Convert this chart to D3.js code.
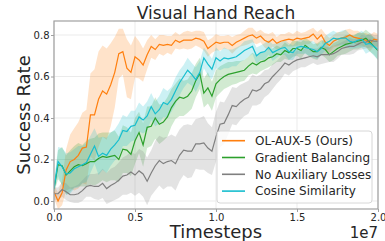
<!DOCTYPE html>
<html>
<head>
<meta charset="utf-8">
<script src="https://cdn.jsdelivr.net/npm/d3@7"></script>
<style>
  body { margin: 0; background: #fff; }
  text { font-family: "DejaVu Sans", sans-serif; fill: #262626; }
  .grid line { stroke: #ebebeb; stroke-width: 1; }
  .band { stroke: none; }
  .line { fill: none; stroke-width: 1.2; }
</style>
</head>
<body>
<script>
// timesteps: one evaluation every 0.25e6 steps
var steps = d3.range(81).map(function(i) { return i * 0.25e6; });

var olAux = [0.045,0.0,0.04,0.15,0.19,0.2,0.22,0.255,0.26,0.415,
  0.415,0.49,0.53,0.515,0.56,0.62,0.71,0.72,0.64,0.62,
  0.695,0.68,0.655,0.705,0.745,0.73,0.755,0.75,0.755,0.75,
  0.775,0.765,0.775,0.775,0.775,0.785,0.78,0.77,0.735,0.75,
  0.765,0.76,0.765,0.765,0.75,0.765,0.775,0.785,0.795,0.8,
  0.785,0.795,0.775,0.765,0.78,0.76,0.77,0.775,0.78,0.775,
  0.785,0.78,0.785,0.79,0.805,0.78,0.8,0.765,0.75,0.77,
  0.78,0.785,0.79,0.8,0.79,0.785,0.78,0.775,0.76,0.78,
  0.775];
var olAuxSd = [0.03,0.04,0.06,0.1,0.13,0.15,0.16,0.17,0.18,
  0.2,0.22,0.23,0.22,0.22,0.2,0.17,0.12,0.11,0.14,0.13,0.1,
  0.09,0.08,0.07,0.055,0.05,0.045,0.05,0.04,0.045,0.04,0.035,0.04,0.045,0.04,0.035,0.04,0.045,0.04,0.035,0.04,
  0.035,0.03,0.035,0.04,0.035,0.03,0.035,0.04,0.035,0.03,
  0.03,0.035,0.04,0.035,0.03,0.035,0.03,0.035,0.03,0.035,
  0.03,0.03,0.035,0.03,0.035,0.03,0.04,0.035,0.03,0.035,
  0.03,0.035,0.03,0.03,0.035,0.03,0.035,0.04,0.035,0.03];

var gradBal = [0.06,0.175,0.17,0.125,0.145,0.165,0.175,0.17,0.18,0.19,
  0.19,0.205,0.215,0.21,0.215,0.22,0.2,0.25,0.245,0.225,
  0.29,0.33,0.27,0.355,0.36,0.4,0.37,0.38,0.405,0.45,
  0.48,0.5,0.495,0.505,0.53,0.58,0.615,0.52,0.545,0.505,
  0.565,0.585,0.6,0.61,0.615,0.62,0.625,0.63,0.65,0.665,
  0.655,0.67,0.675,0.69,0.695,0.71,0.705,0.725,0.715,0.735,
  0.735,0.725,0.75,0.735,0.72,0.72,0.74,0.73,0.705,0.72,
  0.735,0.745,0.755,0.76,0.765,0.77,0.775,0.785,0.765,0.745,
  0.725];
var gradBalSd = [0.02,0.07,0.09,0.095,0.1,0.1,0.105,0.1,0.11,
  0.11,0.115,0.12,0.115,0.12,0.115,0.12,0.11,0.115,0.11,0.105,0.11,
  0.1,0.105,0.1,0.095,0.1,0.095,0.09,0.095,0.09,0.085,0.09,0.085,0.08,0.085,0.08,0.075,0.07,0.075,0.07,0.065,
  0.065,0.06,0.06,0.055,0.055,0.05,0.05,0.045,0.05,0.045,
  0.045,0.04,0.045,0.04,0.04,0.035,0.04,0.035,0.04,0.035,
  0.04,0.035,0.04,0.035,0.04,0.035,0.04,0.035,0.04,0.035,
  0.04,0.045,0.04,0.035,0.04,0.035,0.04,0.045,0.04,0.045];

var noAux = [0.035,0.035,0.055,0.045,0.03,0.03,0.035,0.05,0.07,0.075,
  0.07,0.07,0.085,0.06,0.075,0.085,0.1,0.12,0.125,0.14,
  0.125,0.145,0.13,0.095,0.135,0.17,0.195,0.18,0.19,0.195,
  0.18,0.22,0.245,0.24,0.24,0.275,0.275,0.28,0.255,0.24,
  0.31,0.37,0.375,0.415,0.46,0.455,0.475,0.49,0.5,0.535,
  0.53,0.54,0.565,0.575,0.6,0.62,0.64,0.665,0.655,0.67,
  0.68,0.685,0.69,0.695,0.7,0.695,0.705,0.705,0.705,0.71,
  0.72,0.735,0.74,0.745,0.745,0.755,0.765,0.765,0.775,0.77,
  0.77];
var noAuxSd = [0.03,0.03,0.035,0.04,0.035,0.04,0.045,0.05,0.05,
  0.055,0.06,0.065,0.07,0.075,0.08,0.08,0.085,0.09,0.095,0.1,0.1,
  0.105,0.11,0.115,0.11,0.12,0.12,0.125,0.12,0.125,0.13,0.125,0.12,0.13,0.125,0.12,0.125,0.13,0.12,0.115,0.12,0.11,0.1,0.095,0.09,0.09,
  0.085,0.08,0.08,0.075,0.07,0.07,0.065,0.06,0.06,0.055,0.055,0.05,0.05,0.045,0.045,
  0.04,0.045,0.04,0.035,0.04,0.045,0.04,0.035,0.04,0.035,
  0.03,0.035,0.04,0.035,0.03,0.035,0.03,0.035,0.03,0.03];

var cosSim = [0.06,0.19,0.165,0.13,0.135,0.155,0.165,0.175,0.185,0.225,
  0.265,0.215,0.23,0.22,0.25,0.27,0.295,0.34,0.335,0.36,
  0.365,0.405,0.39,0.41,0.455,0.42,0.44,0.475,0.465,0.49,
  0.53,0.57,0.6,0.63,0.61,0.585,0.62,0.69,0.66,0.635,
  0.69,0.675,0.69,0.685,0.69,0.695,0.71,0.725,0.735,0.745,
  0.7,0.715,0.72,0.74,0.715,0.725,0.735,0.74,0.72,0.715,
  0.74,0.745,0.74,0.735,0.73,0.72,0.735,0.76,0.77,0.785,
  0.78,0.785,0.785,0.77,0.765,0.775,0.78,0.755,0.76,0.745,
  0.73];
var cosSimSd = [0.02,0.07,0.09,0.1,0.1,0.095,0.1,0.09,0.095,
  0.09,0.085,0.09,0.08,0.085,0.08,0.075,0.08,0.075,0.07,0.075,0.07,
  0.07,0.065,0.07,0.065,0.06,0.065,0.07,0.065,0.06,0.065,0.06,0.055,0.06,0.055,0.06,0.055,0.05,0.055,0.05,0.05,
  0.045,0.05,0.045,0.04,0.045,0.04,0.045,0.04,0.035,0.04,
  0.035,0.04,0.035,0.04,0.035,0.03,0.035,0.04,0.035,0.03,
  0.035,0.03,0.035,0.04,0.035,0.03,0.035,0.04,0.035,0.03,
  0.035,0.04,0.035,0.03,0.035,0.04,0.045,0.04,0.045,0.05];

var names = ["OL-AUX-5 (Ours)", "Gradient Balancing", "No Auxiliary Losses", "Cosine Similarity"];
var colors = ["#ff7f0e", "#2ca02c", "#7f7f7f", "#17becf"];
var means = [olAux, gradBal, noAux, cosSim];
var sds = [olAuxSd, gradBalSd, noAuxSd, cosSimSd];
var xTicks = [0, 0.5e7, 1e7, 1.5e7, 2e7];
var yTicks = [0, 0.2, 0.4, 0.6, 0.8];

var w = 385, h = 241,
    pLeft = 54, pRight = 378, pTop = 21, pBottom = 209;

var svg = d3.select("body").append("svg")
  .attr("width", w)
  .attr("height", h);

var x = d3.scaleLinear().domain([0, 2e7]).range([pLeft, pRight]);
var y = d3.scaleLinear().domain([-0.0386, 0.8675]).range([pBottom, pTop]);

svg.append("defs").append("clipPath").attr("id", "clip")
  .append("rect").attr("x", pLeft).attr("y", pTop)
  .attr("width", pRight - pLeft).attr("height", pBottom - pTop);

// grid
var grid = svg.append("g").attr("class", "grid");
grid.selectAll("line.gx").data(xTicks).enter().append("line")
  .attr("x1", function(d) { return x(d); }).attr("x2", function(d) { return x(d); })
  .attr("y1", pTop).attr("y2", pBottom);
grid.selectAll("line.gy").data(yTicks).enter().append("line")
  .attr("y1", function(d) { return y(d); }).attr("y2", function(d) { return y(d); })
  .attr("x1", pLeft).attr("x2", pRight);

var plot = svg.append("g").attr("clip-path", "url(#clip)");

// bands first (matplotlib puts fills below lines)
means.forEach(function(m, k) {
  var area = d3.area()
    .x(function(d, i) { return x(steps[i]); })
    .y0(function(d, i) { return y(d - sds[k][i]); })
    .y1(function(d, i) { return y(d + sds[k][i]); });
  plot.append("path").attr("class", "band")
    .attr("d", area(m))
    .attr("fill", colors[k])
    .attr("fill-opacity", 0.22);
});

means.forEach(function(m, k) {
  var line = d3.line()
    .x(function(d, i) { return x(steps[i]); })
    .y(function(d) { return y(d); });
  plot.append("path").attr("class", "line")
    .attr("d", line(m))
    .attr("stroke", colors[k]);
});

// frame
svg.append("rect")
  .attr("x", pLeft).attr("y", pTop)
  .attr("width", pRight - pLeft).attr("height", pBottom - pTop)
  .attr("fill", "none").attr("stroke", "#a0a0a0").attr("stroke-width", 1.2);

// axes: short gray ticks outside the frame
var xAxis = d3.axisBottom(x).tickValues(xTicks).tickSize(3).tickPadding(1.5)
  .tickFormat(function(d) { return (d / 1e7).toFixed(1); });
var gx = svg.append("g").attr("transform", "translate(0," + pBottom + ")").call(xAxis);
var yAxis = d3.axisLeft(y).tickValues(yTicks).tickSize(3).tickPadding(1.5)
  .tickFormat(d3.format(".1f"));
var gy = svg.append("g").attr("transform", "translate(" + pLeft + ",0)").call(yAxis);
[gx, gy].forEach(function(g) {
  g.select(".domain").remove();
  g.selectAll("line").attr("stroke", "#a0a0a0");
  g.selectAll("text").attr("font-family", "DejaVu Sans").attr("font-size", 10).attr("fill", "#262626");
});

// titles
svg.append("text").attr("x", (pLeft + pRight) / 2).attr("y", 19)
  .attr("text-anchor", "middle").attr("font-size", 17).text("Visual Hand Reach");
svg.append("text").attr("x", (pLeft + pRight) / 2).attr("y", 238)
  .attr("text-anchor", "middle").attr("font-size", 18).text("Timesteps");
svg.append("text").attr("x", pRight).attr("y", 238)
  .attr("text-anchor", "end").attr("font-size", 15).text("1e7");
svg.append("text")
  .attr("transform", "translate(30," + ((pTop + pBottom) / 2) + ") rotate(-90)")
  .attr("text-anchor", "middle").attr("font-size", 18).text("Success Rate");

// legend
var lg = svg.append("g").attr("transform", "translate(217,131)");
lg.append("rect").attr("width", 155).attr("height", 72).attr("rx", 3)
  .attr("fill", "#fff").attr("fill-opacity", 0.8)
  .attr("stroke", "#d6d6d6").attr("stroke-width", 1);
var rows = lg.selectAll("g.row").data(names).enter().append("g")
  .attr("transform", function(d, i) { return "translate(0," + (9.7 + i * 16.8) + ")"; });
rows.append("line").attr("x1", 5).attr("x2", 28).attr("y1", 0).attr("y2", 0)
  .attr("stroke", function(d, i) { return colors[i]; }).attr("stroke-width", 1.6);
rows.append("text").attr("x", 38).attr("y", 4.3).attr("font-size", 12)
  .text(function(d) { return d; });
</script>
</body>
</html>
